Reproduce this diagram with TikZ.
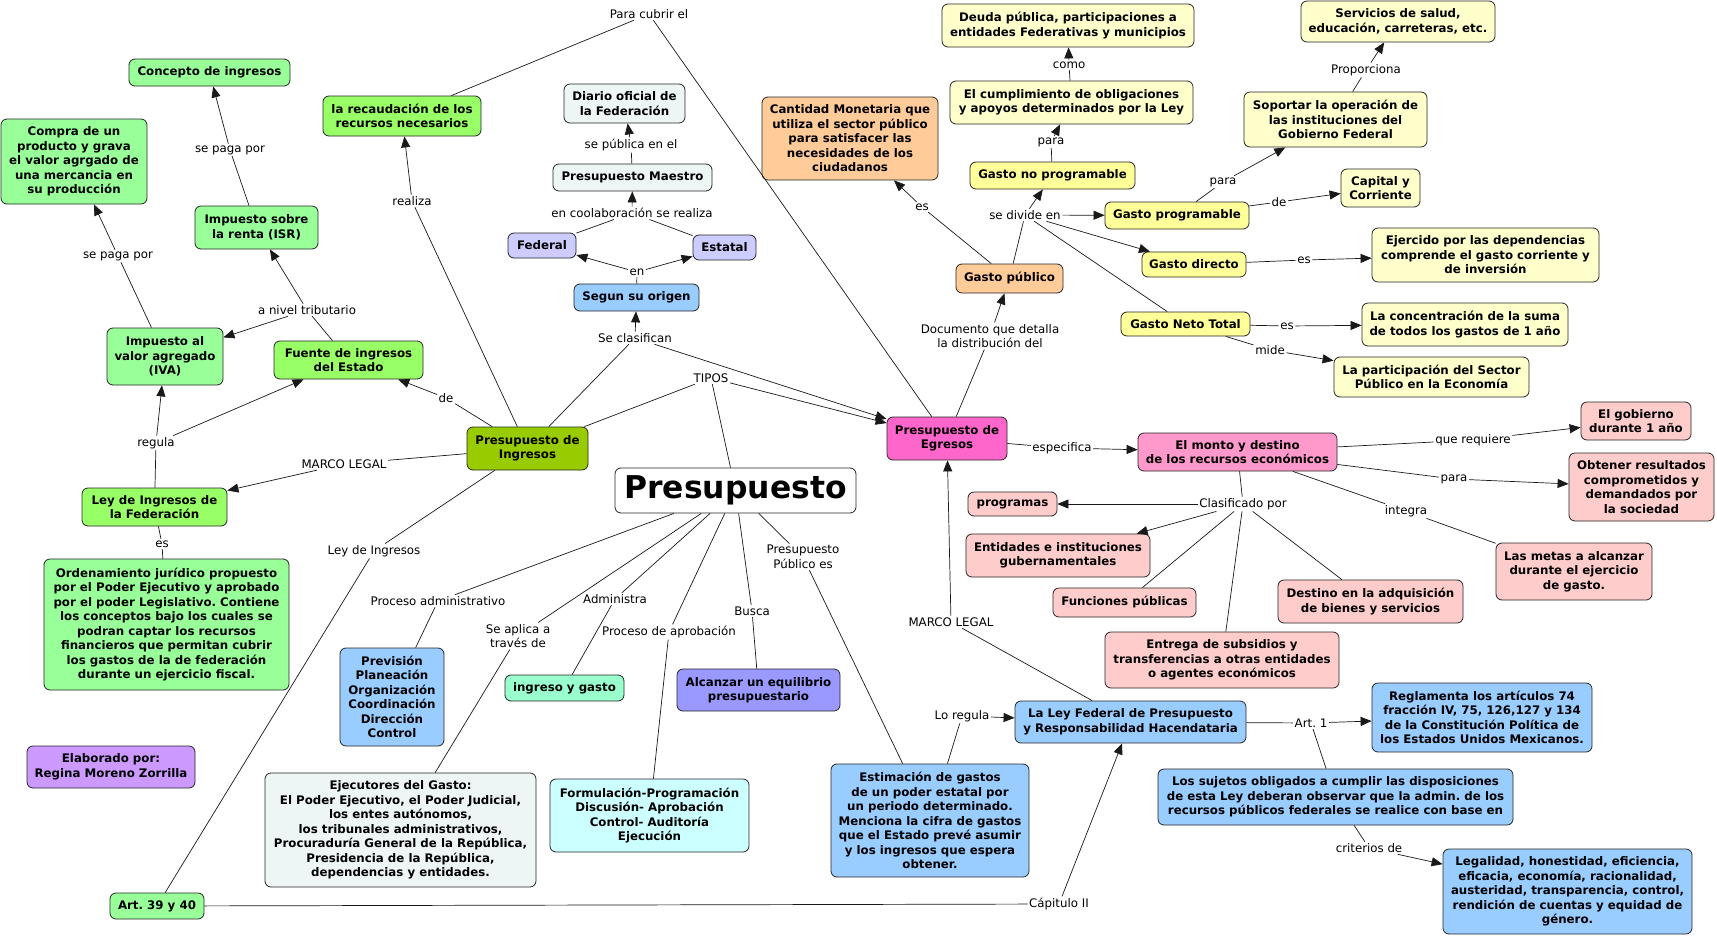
\documentclass[tikz,border=0pt]{standalone}
\usepackage{fontspec}
\setmainfont{DejaVu Sans}
\usetikzlibrary{arrows.meta}
\frenchspacing
\definecolor{cGa}{HTML}{99FF99}
\definecolor{cGb}{HTML}{99FF66}
\definecolor{cOlive}{HTML}{99CC00}
\definecolor{cGray}{HTML}{EDF5F5}
\definecolor{cLav}{HTML}{CCCCFF}
\definecolor{cBlue}{HTML}{99CCFF}
\definecolor{cPeach}{HTML}{FFCC99}
\definecolor{cYl}{HTML}{FFFFCC}
\definecolor{cYd}{HTML}{FFFF99}
\definecolor{cHot}{HTML}{FF66CC}
\definecolor{cPk}{HTML}{FF99CC}
\definecolor{cRose}{HTML}{FFCCCC}
\definecolor{cMint}{HTML}{99FFCC}
\definecolor{cViol}{HTML}{9999FF}
\definecolor{cCyan}{HTML}{CCFFFF}
\definecolor{cPurp}{HTML}{CC99FF}
\begin{document}
\frenchspacing
\begin{tikzpicture}[x=1pt,y=-1pt,
  cn/.style={draw=black!85, rounded corners=6pt, line width=0.8pt, align=center,
    font=\fontsize{11.8}{14.5}\selectfont\bfseries\frenchspacing, inner sep=2pt},
  lbl/.style={align=center, font=\fontsize{11.8}{14.5}\selectfont\frenchspacing, inner sep=1.5pt},
  ln/.style={draw=black!90, line width=0.7pt},
  ar/.style={draw=black!90, line width=0.7pt, -{Triangle[length=11pt,width=9pt]}}]
\fill[white] (0,0) rectangle (1717,937);
\useasboundingbox (0,0) rectangle (1717,937);

% ---------- concept nodes ----------
\node[cn,fill=cGa,minimum width=161,minimum height=27] (concepto) at (209.5,72.5) {Concepto de ingresos};
\node[cn,fill=cGb,minimum width=158,minimum height=40] (recaud) at (402,116) {la recaudación de los\\recursos necesarios};
\node[cn,fill=cGa,minimum width=146,minimum height=85] (compra) at (74,161.5) {Compra de un\\producto y grava\\el valor agrgado de\\una mercancia en\\su producción};
\node[cn,fill=cGa,minimum width=123,minimum height=43] (isr) at (256.5,227.5) {Impuesto sobre\\la renta (ISR)};
\node[cn,fill=cGa,minimum width=116,minimum height=57] (iva) at (165,356.5) {Impuesto al\\valor agregado\\(IVA)};
\node[cn,fill=cGb,minimum width=149,minimum height=38] (fuente) at (348.5,360) {Fuente de ingresos\\del Estado};
\node[cn,fill=cGb,minimum width=145,minimum height=38] (leyfed) at (154.5,507) {Ley de Ingresos de\\la Federación};
\node[cn,fill=cGa,minimum width=245,minimum height=131] (orden) at (166.5,624.5) {Ordenamiento jurídico propuesto\\por el Poder Ejecutivo y aprobado\\por el poder Legislativo. Contiene\\los conceptos bajo los cuales se\\podran captar los recursos\\financieros que permitan cubrir\\los gastos de la de federación\\durante un ejercicio fiscal.};
\node[cn,fill=cOlive,minimum width=121,minimum height=43] (pi) at (527.5,448.5) {Presupuesto de\\Ingresos};
\node[cn,fill=cGray,minimum width=121,minimum height=39] (diario) at (624.5,103.5) {Diario oficial de\\la Federación};
\node[cn,fill=cGray,minimum width=159,minimum height=27] (maestro) at (632.5,177.5) {Presupuesto Maestro};
\node[cn,fill=cLav,minimum width=68,minimum height=25] (federal) at (542,245.5) {Federal};
\node[cn,fill=cLav,minimum width=63,minimum height=25] (estatal) at (724.5,247.5) {Estatal};
\node[cn,fill=cBlue,minimum width=125,minimum height=27] (segun) at (636.5,297.5) {Segun su origen};
\node[cn,fill=cPeach,minimum width=176,minimum height=83] (cantidad) at (850,138.5) {Cantidad Monetaria que\\utiliza el sector público\\para satisfacer las\\necesidades de los\\ciudadanos};
\node[cn,fill=cYl,minimum width=252,minimum height=43] (deuda) at (1068,25.5) {Deuda pública, participaciones a\\entidades Federativas y municipios};
\node[cn,fill=cYl,minimum width=243,minimum height=43] (cumpl) at (1071.5,102.5) {El cumplimiento de obligaciones\\y apoyos determinados por la Ley};
\node[cn,fill=cYd,minimum width=165,minimum height=27] (gnoprog) at (1052.5,175.5) {Gasto no programable};
\node[cn,fill=cYd,minimum width=144,minimum height=27] (gprog) at (1177,215.5) {Gasto programable};
\node[cn,fill=cYd,minimum width=104,minimum height=25] (gdirecto) at (1194,264.5) {Gasto directo};
\node[cn,fill=cPeach,minimum width=107,minimum height=29] (gpublico) at (1009.5,278.5) {Gasto público};
\node[cn,fill=cYd,minimum width=129,minimum height=24] (gneto) at (1185.5,324) {Gasto Neto Total};
\node[cn,fill=cYl,minimum width=194,minimum height=41] (servicios) at (1398,21.5) {Servicios de salud,\\educación, carreteras, etc.};
\node[cn,fill=cYl,minimum width=183,minimum height=55] (soportar) at (1335.5,119.5) {Soportar la operación de\\las instituciones del\\Gobierno Federal};
\node[cn,fill=cYl,minimum width=79,minimum height=38] (capital) at (1380.5,188) {Capital y\\Corriente};
\node[cn,fill=cYl,minimum width=227,minimum height=54] (ejercido) at (1485.5,255) {Ejercido por las dependencias\\comprende el gasto corriente y\\de inversión};
\node[cn,fill=cYl,minimum width=206,minimum height=43] (concent) at (1465,324.5) {La concentración de la suma\\de todos los gastos de 1 año};
\node[cn,fill=cYl,minimum width=195,minimum height=40] (particip) at (1431.5,377) {La participación del Sector\\Público en la Economía};
\node[cn,fill=cHot,minimum width=120,minimum height=43] (pe) at (947,438.5) {Presupuesto de\\Egresos};
\node[cn,fill=cPk,minimum width=199,minimum height=38] (monto) at (1237.5,452) {El monto y destino\\de los recursos económicos};
\node[cn,fill=cRose,minimum width=110,minimum height=38] (gobierno) at (1636,421) {El gobierno\\durante 1 año};
\node[cn,fill=cRose,minimum width=145,minimum height=68] (obtener) at (1641.5,487) {Obtener resultados\\comprometidos y\\demandados por\\la sociedad};
\node[cn,fill=cRose,minimum width=156,minimum height=57] (metas) at (1574,571.5) {Las metas a alcanzar\\durante el ejercicio\\de gasto.};
\node[cn,fill=cRose,minimum width=89,minimum height=24] (programas) at (1012.5,504) {programas};
\node[cn,fill=cRose,minimum width=184,minimum height=43] (entidades) at (1058,555.5) {Entidades e instituciones\\gubernamentales};
\node[cn,fill=cRose,minimum width=143,minimum height=29] (funciones) at (1124.5,602.5) {Funciones públicas};
\node[cn,fill=cRose,minimum width=185,minimum height=43] (destino) at (1370.5,601.5) {Destino en la adquisición\\de bienes y servicios};
\node[cn,fill=cRose,minimum width=234,minimum height=56] (entrega) at (1222,660) {Entrega de subsidios y\\transferencias a otras entidades\\o agentes económicos};
\node[cn,fill=white,minimum width=241,minimum height=45,font=\fontsize{31.4}{36}\selectfont\bfseries] (presupuesto) at (735.5,490.5) {Presupuesto};
\node[cn,fill=cBlue,minimum width=104,minimum height=98] (prevision) at (392,697) {Previsión\\Planeación\\Organización\\Coordinación\\Dirección\\Control};
\node[cn,fill=cMint,minimum width=119,minimum height=26] (ingreso) at (564.5,688) {ingreso y gasto};
\node[cn,fill=cViol,minimum width=163,minimum height=42] (alcanzar) at (758.5,690) {Alcanzar un equilibrio\\presupuestario};
\node[cn,fill=cGray,minimum width=271,minimum height=114] (ejecutores) at (400.5,830) {Ejecutores del Gasto:\\El Poder Ejecutivo, el Poder Judicial,\\los entes autónomos,\\los tribunales administrativos,\\Procuraduría General de la República,\\Presidencia de la República,\\dependencias y entidades.};
\node[cn,fill=cCyan,minimum width=199,minimum height=73] (formul) at (649.5,815.5) {Formulación-Programación\\Discusión- Aprobación\\Control- Auditoría\\Ejecución};
\node[cn,fill=cBlue,minimum width=198,minimum height=113] (estimacion) at (930,820.5) {Estimación de gastos\\de un poder estatal por\\un periodo determinado.\\Menciona la cifra de gastos\\que el Estado prevé asumir\\y los ingresos que espera\\obtener.};
\node[cn,fill=cBlue,minimum width=231,minimum height=42] (leyfederal) at (1130.5,722) {La Ley Federal de Presupuesto\\y Responsabilidad Hacendataria};
\node[cn,fill=cBlue,minimum width=220,minimum height=69] (reglamenta) at (1482,717.5) {Reglamenta los artículos 74\\fracción IV, 75, 126,127 y 134\\de la Constitución Política de\\los Estados Unidos Mexicanos.};
\node[cn,fill=cBlue,minimum width=355,minimum height=56] (sujetos) at (1335.5,797) {Los sujetos obligados a cumplir las disposiciones\\de esta Ley deberan observar que la admin. de los\\recursos públicos federales se realice con base en};
\node[cn,fill=cBlue,minimum width=249,minimum height=85] (legalidad) at (1567.5,891.5) {Legalidad, honestidad, eficiencia,\\eficacia, economía, racionalidad,\\austeridad, transparencia, control,\\rendición de cuentas y equidad de\\género.};
\node[cn,fill=cPurp,minimum width=168,minimum height=42] (elaborado) at (111,767) {Elaborado por:\\Regina Moreno Zorrilla};
\node[cn,fill=cGa,minimum width=94,minimum height=26] (art39) at (157,906) {Art. 39 y 40};

% ---------- linking phrases ----------
\node[lbl] (sepagaA) at (230,150) {se paga por};
\node[lbl] (sepagaB) at (118,256) {se paga por};
\node[lbl] (realiza) at (412,201) {realiza};
\node[lbl] (nivel) at (307,310) {a nivel tributario};
\node[lbl] (paracubrir) at (649,14) {Para cubrir el};
\node[lbl] (sepub) at (631,145) {se pública en el};
\node[lbl] (colab) at (632,213) {en coolaboración se realiza};
\node[lbl] (enA) at (637,272) {en};
\node[lbl] (como) at (1069,65) {como};
\node[lbl] (paraA) at (1051,142) {para};
\node[lbl] (esB) at (922,207) {es};
\node[lbl] (sedivide) at (1025,215) {se divide en};
\node[lbl] (paraB) at (1223,182) {para};
\node[lbl] (deB) at (1279,202) {de};
\node[lbl] (proporciona) at (1366,70) {Proporciona};
\node[lbl] (esC) at (1304,260) {es};
\node[lbl] (esD) at (1287,326) {es};
\node[lbl] (mide) at (1270,350) {mide};
\node[lbl] (documento) at (990,336) {Documento que detalla\\la distribución del};
\node[lbl] (especifica) at (1062,448) {especifica};
\node[lbl] (requiere) at (1473,440) {que requiere};
\node[lbl] (paraC) at (1454,479) {para};
\node[lbl] (integra) at (1406,511) {integra};
\node[lbl] (clasif) at (1243,504) {Clasificado por};
\node[lbl] (marcoB) at (951,622) {MARCO LEGAL};
\node[lbl] (regula) at (156,443) {regula};
\node[lbl] (marcoA) at (344,464) {MARCO LEGAL};
\node[lbl] (esA) at (162,544) {es};
\node[lbl] (leying) at (374,551) {Ley de Ingresos};
\node[lbl] (seclas) at (635,338) {Se clasifican};
\node[lbl] (tipos) at (711,378) {TIPOS};
\node[lbl] (deA) at (446,398) {de};
\node[lbl] (administra) at (615,599) {Administra};
\node[lbl] (busca) at (752,611) {Busca};
\node[lbl] (pubes) at (803,557) {Presupuesto\\Público es};
\node[lbl] (procadm) at (438,601) {Proceso administrativo};
\node[lbl] (seaplica) at (518,636) {Se aplica a\\través de};
\node[lbl] (procapr) at (669,632) {Proceso de aprobación};
\node[lbl] (loregula) at (962,716) {Lo regula};
\node[lbl] (capII) at (1059,904) {Cápitulo II};
\node[lbl] (artA) at (1311,723) {Art. 1};
\node[lbl] (criterios) at (1369,848) {criterios de};

% ---------- connectors ----------
\path[ln] (presupuesto) -- (tipos);
\path[ln] (tipos) -- (pi);
\path[ar] (tipos) -- (pe);
\path[ln] (pi) -- (seclas);
\path[ar] (seclas) -- (segun);
\path[ar] (seclas) -- (pe);
\path[ln] (segun) -- (enA);
\path[ar] (enA) -- (federal);
\path[ar] (enA) -- (estatal);
\path[ln] (federal) -- (colab);
\path[ln] (estatal) -- (colab);
\path[ar] (colab) -- (maestro);
\path[ln] (maestro) -- (sepub);
\path[ar] (sepub) -- (diario);
\path[ln] (pi) -- (realiza);
\path[ar] (realiza) -- (recaud);
\path[ln] (recaud) -- (paracubrir);
\path[ln] (paracubrir) -- (pe);
\path[ln] (pi) -- (deA);
\path[ar] (deA) -- (fuente);
\path[ln] (fuente) -- (nivel);
\path[ar] (nivel) -- (iva);
\path[ar] (nivel) -- (isr);
\path[ln] (iva) -- (sepagaB);
\path[ar] (sepagaB) -- (compra);
\path[ln] (isr) -- (sepagaA);
\path[ar] (sepagaA) -- (concepto);
\path[ln] (pi) -- (marcoA);
\path[ar] (marcoA) -- (leyfed);
\path[ln] (leyfed) -- (regula);
\path[ar] (regula) -- (iva);
\path[ar] (regula) -- (fuente);
\path[ln] (leyfed) -- (esA);
\path[ln] (esA) -- (orden);
\path[ln] (pi) -- (leying);
\path[ln] (leying) -- (art39);
\path[ln] (art39) -- (capII);
\path[ar] (capII) -- (leyfederal);
\path[ln] (presupuesto) -- (procadm);
\path[ln] (procadm) -- (prevision);
\path[ln] (presupuesto) -- (seaplica);
\path[ln] (seaplica) -- (ejecutores);
\path[ln] (presupuesto) -- (administra);
\path[ln] (administra) -- (ingreso);
\path[ln] (presupuesto) -- (procapr);
\path[ln] (procapr) -- (formul);
\path[ln] (presupuesto) -- (busca);
\path[ln] (busca) -- (alcanzar);
\path[ln] (presupuesto) -- (pubes);
\path[ln] (pubes) -- (estimacion);
\path[ln] (estimacion) -- (loregula);
\path[ar] (loregula) -- (leyfederal);
\path[ln] (leyfederal) -- (marcoB);
\path[ar] (marcoB) -- (pe);
\path[ln] (leyfederal) -- (artA);
\path[ar] (artA) -- (reglamenta);
\path[ln] (artA) -- (sujetos);
\path[ln] (sujetos) -- (criterios);
\path[ar] (criterios) -- (legalidad);
\path[ln] (pe) -- (documento);
\path[ar] (documento) -- (gpublico);
\path[ln] (gpublico) -- (esB);
\path[ar] (esB) -- (cantidad);
\path[ln] (gpublico) -- (sedivide);
\path[ar] (sedivide) -- (gnoprog);
\path[ar] (sedivide) -- (gprog);
\path[ar] (sedivide) -- (gdirecto);
\path[ln] (sedivide) -- (gneto);
\path[ln] (gnoprog) -- (paraA);
\path[ar] (paraA) -- (cumpl);
\path[ln] (cumpl) -- (como);
\path[ar] (como) -- (deuda);
\path[ln] (gprog) -- (paraB);
\path[ar] (paraB) -- (soportar);
\path[ln] (gprog) -- (deB);
\path[ar] (deB) -- (capital);
\path[ln] (soportar) -- (proporciona);
\path[ar] (proporciona) -- (servicios);
\path[ln] (gdirecto) -- (esC);
\path[ar] (esC) -- (ejercido);
\path[ln] (gneto) -- (esD);
\path[ar] (esD) -- (concent);
\path[ln] (gneto) -- (mide);
\path[ar] (mide) -- (particip);
\path[ln] (pe) -- (especifica);
\path[ar] (especifica) -- (monto);
\path[ln] (monto) -- (requiere);
\path[ar] (requiere) -- (gobierno);
\path[ln] (monto) -- (paraC);
\path[ar] (paraC) -- (obtener);
\path[ln] (monto) -- (integra);
\path[ln] (integra) -- (metas);
\path[ln] (monto) -- (clasif);
\path[ar] (clasif) -- (programas);
\path[ar] (clasif) -- (entidades);
\path[ln] (clasif) -- (funciones);
\path[ln] (clasif) -- (entrega);
\path[ln] (clasif) -- (destino);
\end{tikzpicture}
\end{document}
